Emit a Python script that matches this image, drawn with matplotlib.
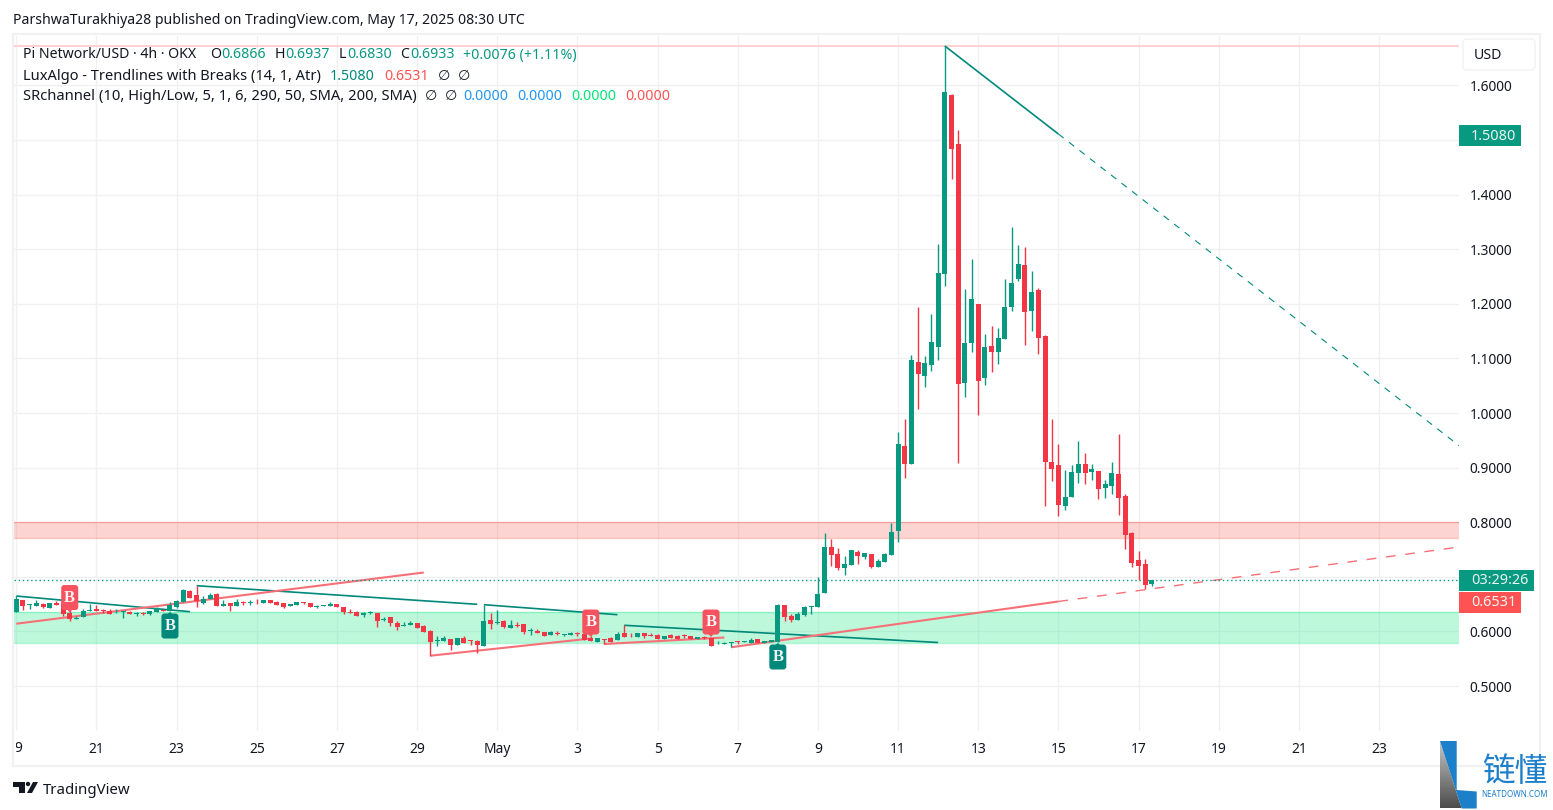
import numpy as np
import matplotlib
matplotlib.use("Agg")
from matplotlib import pyplot as plt
from matplotlib.patches import FancyBboxPatch, Polygon, Rectangle, Circle

# 4h candles, bar 0 = Apr 19 00:00
opens = [.6362,.6575,.6484,.6466,.6502,.6429,.6520,.6520,.6331,.6228,.6264,.6380,.6411,.6392,.6374,.6368,.6362,.6362,.6325,.6337,
         .6319,.6362,.6392,.6374,.6447,.6539,.6740,.6667,.6520,.6594,.6685,.6472,.6520,.6472,.6539,.6527,.6545,.6520,.6575,.6538,
         .6520,.6465,.6483,.6538,.6520,.6452,.6471,.6465,.6501,.6446,.6355,.6355,.6306,.6337,.6337,.6214,.6263,.6153,.6098,.6117,
         .6153,.6098,.6007,.5824,.5824,.5860,.5750,.5879,.5842,.5824,.5732,.6208,.6153,.6190,.6062,.6117,.6135,.6007,.6007,.5989,
         .5934,.5977,.5934,.5934,.5964,.5952,.5879,.5806,.5861,.5879,.5842,.5970,.5940,.5897,.5970,.5934,.5934,.5861,.5934,.5916,
         .5928,.5916,.5861,.5897,.5879,.5781,.5775,.5787,.5818,.5806,.5787,.5861,.5794,.5812,.5812,.6483,.6282,.6209,.6300,.6447,
         .6447,.6703,.7546,.7417,.7161,.7216,.7454,.7363,.7418,.7179,.7271,.7399,.7839,.9396,.9066,1.0934,1.0678,1.0879,1.1209,1.2546,
         1.5825,1.4927,1.0550,1.1282,1.1996,1.0641,1.1227,1.1117,1.1356,1.1941,1.2454,1.2711,1.1868,1.2253,1.1410,.9103,.9048,.8297,.8462,.8901,
         .9066,.8920,.8938,.8627,.8663,.8883,.8480,.7802,.7308,.7235,.6866]
highs = [.6649,.6575,.6502,.6575,.6514,.6520,.6557,.6520,.6392,.6282,.6411,.6502,.6484,.6411,.6411,.6411,.6374,.6374,.6362,.6362,
         .6374,.6447,.6411,.6533,.6575,.6770,.6758,.6838,.6649,.6704,.6704,.6575,.6520,.6594,.6563,.6569,.6587,.6575,.6575,.6550,
         .6520,.6501,.6538,.6538,.6520,.6489,.6489,.6538,.6501,.6446,.6410,.6367,.6361,.6373,.6337,.6263,.6263,.6190,.6172,.6190,
         .6153,.6117,.6025,.5915,.5915,.5860,.5885,.5915,.5842,.5842,.6483,.6337,.6392,.6208,.6208,.6172,.6135,.6062,.6044,.5989,
         .6007,.6007,.5952,.5989,.5989,.5952,.5916,.5879,.5861,.5897,.5989,.6117,.5970,.5970,.5970,.5970,.5952,.5916,.5952,.5934,
         .5952,.5916,.5897,.5916,.5879,.5824,.5806,.5800,.5818,.5824,.5879,.5861,.5824,.5842,.6502,.6483,.6319,.6355,.6465,.6459,
         .6996,.7802,.7692,.7527,.7381,.7491,.7491,.7436,.7418,.7326,.7436,.7985,.9652,.9890,1.1062,1.1942,1.1044,1.1813,1.3095,1.6722,
         1.5845,1.5184,1.2271,1.2821,1.1996,1.1447,1.1593,1.1557,1.2454,1.3407,1.3077,1.3040,1.2601,1.2290,1.1429,.9890,.9432,.8956,.9048,.9487,
         .9268,.9066,.8938,.8773,.9103,.9615,.8517,.7821,.7473,.7326,.6937]
lows = [.6362,.6392,.6411,.6466,.6429,.6429,.6484,.6282,.6191,.6228,.6264,.6380,.6374,.6337,.6325,.6337,.6246,.6325,.6289,.6295,
        .6307,.6362,.6374,.6374,.6429,.6539,.6612,.6447,.6502,.6594,.6472,.6472,.6374,.6472,.6484,.6490,.6502,.6520,.6520,.6483,
        .6434,.6465,.6483,.6501,.6446,.6428,.6465,.6465,.6446,.6318,.6337,.6282,.6269,.6318,.6080,.6190,.6098,.6025,.6098,.6117,
        .6062,.5989,.5549,.5732,.5824,.5659,.5750,.5787,.5750,.5604,.5732,.6044,.6135,.6062,.6062,.6080,.5952,.5934,.5970,.5916,
        .5934,.5934,.5916,.5934,.5916,.5842,.5824,.5806,.5769,.5806,.5842,.5897,.5897,.5897,.5879,.5922,.5861,.5861,.5879,.5861,
        .5879,.5861,.5861,.5861,.5732,.5769,.5775,.5720,.5769,.5806,.5787,.5787,.5794,.5812,.5800,.6190,.6172,.6209,.6282,.6319,
        .6447,.6703,.7198,.7125,.7033,.7216,.7234,.7326,.7161,.7179,.7271,.7399,.7637,.8809,.9066,1.0073,1.0476,1.0769,1.0971,1.2326,
        1.4286,.9084,1.0293,1.1117,.9963,1.0513,1.0751,1.0898,1.1356,1.1868,1.2418,1.1246,1.1502,1.1081,.8297,.8755,.8114,.8224,.8462,.8718,
        .8700,.8773,.8425,.8443,.8517,.8132,.7509,.7180,.6942,.6777,.6830]
closes = [.6588,.6472,.6496,.6520,.6447,.6520,.6484,.6313,.6221,.6240,.6374,.6392,.6374,.6368,.6325,.6380,.6374,.6325,.6337,.6325,
          .6374,.6423,.6374,.6484,.6557,.6758,.6612,.6557,.6594,.6667,.6472,.6502,.6472,.6539,.6527,.6539,.6533,.6575,.6520,.6483,
          .6446,.6501,.6538,.6520,.6446,.6471,.6489,.6501,.6446,.6355,.6337,.6282,.6343,.6355,.6190,.6233,.6153,.6080,.6117,.6153,
          .6062,.5989,.5805,.5842,.5879,.5750,.5879,.5787,.5824,.5750,.6190,.6135,.6172,.6080,.6117,.6105,.5989,.6019,.5970,.5916,
          .5989,.5958,.5952,.5970,.5945,.5842,.5824,.5879,.5842,.5806,.5952,.5897,.5928,.5970,.5916,.5922,.5861,.5916,.5879,.5861,
          .5916,.5861,.5897,.5879,.5732,.5793,.5787,.5800,.5806,.5818,.5842,.5787,.5824,.5842,.6483,.6264,.6209,.6319,.6447,.6459,
          .6685,.7546,.7399,.7161,.7234,.7491,.7381,.7436,.7179,.7289,.7418,.7820,.9432,.9066,1.0971,1.0715,1.0916,1.1301,1.2564,1.5880,
          1.4836,1.0531,1.1282,1.2088,1.0586,1.1209,1.1117,1.1374,1.1941,1.2381,1.2729,1.1850,1.2216,1.1374,.9103,.8975,.8315,.8462,.8920,.9066,
          .8901,.8975,.8608,.8700,.8901,.8443,.7766,.7253,.7198,.6850,.6933]

# trendlines: (bar, price) pairs
green_lines = [[(0, .6648), (26, .6361)], [(27, .6837), (69, .6496)], [(70, .6489), (90, .6306)],
               [(91, .6112), (138, .5797)], [(139, 1.6722), (156, 1.5110)]]
red_lines = [[(0, .6141), (61, .7079)], [(62, .5555), (86, .5870)], [(88, .5769), (106, .5888)],
             [(107, .5709), (156, .6548)]]
green_dash = [(156, 1.5110), (216, .9400)]
red_dash = [(156, .6548), (216, .7546)]

# SR channel bands (top, bottom)
red_band = (.8003, .7711)
green_band = (.6355, .5788)
top_line = 1.6722
last_price = .6933

# break labels: bar, price
sell_marks = [(8, .6346), (86, .5897), (104, .5897)]
buy_marks = [(23, .6355), (114, .5788)]

price_ticks = [.5, .6, .7, .8, .9, 1.0, 1.1, 1.2, 1.3, 1.4, 1.5, 1.6]
price_labels = ['0.5000', '0.6000', '', '0.8000', '0.9000', '1.0000', '1.1000', '1.2000', '1.3000', '1.4000', '', '1.6000']
day_ticks = list(range(0, 216, 12))
day_labels = ['', '21', '23', '25', '27', '29', 'May', '3', '5', '7', '9', '11', '13', '15', '17', '19', '21', '23']

GREEN = '#089981'
RED = '#f23645'
TEAL = '#00897b'
SALMON = '#f77077'
INK = '#131722'
GRID = '#f1f1f1'

plt.rcParams['font.family'] = ['Noto Sans', 'DejaVu Sans']

W, H = 1553, 810
fig = plt.figure(figsize=(W / 100, H / 100), dpi=100, facecolor='white')
ax = fig.add_axes([14 / W, (H - 731) / H, 1445 / W, 695 / H])
ax.set_xlim(-0.344, 215.97)
ax.set_ylim(.4176, 1.6905)
for s in ax.spines.values():
    s.set_visible(False)

ax.grid(True, color=GRID, lw=1)
ax.set_axisbelow(True)
ax.yaxis.tick_right()
ax.set_yticks(price_ticks)
ax.set_yticklabels(price_labels, fontsize=9.9, color=INK, va='center_baseline')
ax.set_xticks(day_ticks)
ax.set_xticklabels(day_labels, fontsize=10, color=INK)
ax.get_xticklabels()[6].set_fontweight('bold')
ax.tick_params(length=0, pad=8)
ax.tick_params(axis='y', pad=7.5)

# bands
ax.axhspan(red_band[1], red_band[0], fc='#f44336', alpha=.22, ec='none', zorder=1)
ax.axhspan(green_band[1], green_band[0], fc='#00e676', alpha=.26, ec='none', zorder=1)
for y in red_band:
    ax.axhline(y, color='#f44336', alpha=.3, lw=1, zorder=1)
for y in green_band:
    ax.axhline(y, color='#00e676', alpha=.3, lw=1, zorder=1)
ax.axhline(top_line, color='#ffd2d4', lw=1.5, zorder=1)

# trendlines
for seg in green_lines:
    xs, ys = zip(*seg)
    ax.plot(xs, ys, color=TEAL, lw=1.2, zorder=2, solid_capstyle='butt')
for seg in red_lines:
    xs, ys = zip(*seg)
    ax.plot(xs, ys, color=SALMON, lw=1.5, zorder=2, solid_capstyle='butt')
xs, ys = zip(*green_dash)
ax.plot(xs, ys, color=TEAL, lw=.8, ls=(0, (6, 6)), zorder=2)
xs, ys = zip(*red_dash)
ax.plot(xs, ys, color=SALMON, lw=1, ls=(0, (7, 7)), zorder=2)
ax.axhline(last_price, color=GREEN, lw=1, ls=(0, (1, 2)), zorder=2)

# candles
o = np.array(opens)
h = np.array(highs)
l = np.array(lows)
c = np.array(closes)
bars = np.arange(len(o))
colors = np.where(c >= o, GREEN, RED)
ax.vlines(bars, l, h, colors=colors, lw=1, zorder=3)
ax.bar(bars, np.abs(c - o), bottom=np.minimum(o, c), width=.75, color=colors, lw=0, zorder=4)

# everything in page pixels goes on this overlay
over = fig.add_axes([0, 0, 1, 1], zorder=5)
over.set_xlim(0, W)
over.set_ylim(H, 0)
over.axis('off')
over.patch.set_alpha(0)


def to_px(bar, price):
    x, y = ax.transData.transform((bar, price))
    return x, H - y


def mark(bar, price, fc, up):
    x, tip = to_px(bar, price)
    top = tip + 1.5 if up else tip - 27.5
    over.add_patch(FancyBboxPatch((x - 8.5, top), 17, 25, boxstyle='round,pad=0,rounding_size=3',
                                  fc=fc, ec='none', zorder=6))
    base = top + 1 if up else top + 24
    over.add_patch(Polygon([(x - 3, base), (x + 3, base), (x, tip)], fc=fc, ec='none', zorder=6))
    over.text(x, top + 12.5, 'B', color='#f4f4f4', fontsize=12, ha='center', va='center', weight='bold',
              family='Liberation Serif', zorder=7)


for b, p in sell_marks:
    mark(b, p, '#f7525f', False)
for b, p in buy_marks:
    mark(b, p, TEAL, True)

# frame
over.add_patch(Rectangle((13, 34), 1527, 732, fc='none', ec=GRID, lw=1.6, zorder=0))

# header and legend
over.text(13, 20.5, 'ParshwaTurakhiya28 published on TradingView.com, May 17, 2025 08:30 UTC', fontsize=10.15,
          color=INK, va='center')


def legend_row(y, items):
    for x, s, col, size in items:
        over.text(x, y, s, fontsize=size, color=col, va='center')


legend_row(55, [(23, 'Pi Network/USD · 4h · OKX', INK, 10.2), (210, 'O', INK, 10.2), (221, '0.6866', GREEN, 10.2),
                (275, 'H', INK, 10.2), (285, '0.6937', GREEN, 10.2), (339, 'L', INK, 10.2), (347, '0.6830', GREEN, 10.2),
                (400, 'C', INK, 10.2), (410, '0.6933', GREEN, 10.2), (463, '+0.0076 (+1.11%)', GREEN, 10.2)])
legend_row(76, [(23, 'LuxAlgo - Trendlines with Breaks (14, 1, Atr)', INK, 10.55), (330, '1.5080', TEAL, 10.2),
                (384, '0.6531', '#ff5252', 10.2), (438, '∅', INK, 10.2), (458, '∅', INK, 10.2)])
legend_row(97, [(23, 'SRchannel (10, High/Low, 5, 1, 6, 290, 50, SMA, 200, SMA)', INK, 10.6), (425, '∅', INK, 10.2),
                (445, '∅', INK, 10.2), (463, '0.0000', '#2196f3', 10.2), (517, '0.0000', '#2196f3', 10.2),
                (571, '0.0000', '#00e676', 10.2), (625, '0.0000', '#ff5252', 10.2)])

# clipped first date label
nine = over.text(16, 748, '19', fontsize=10, color=INK, ha='center', va='center', clip_on=True)
nine.set_clip_path(Rectangle((15.5, 730), 30, 30, transform=over.transData))

# right axis
over.add_patch(FancyBboxPatch((1463, 39), 72, 31, boxstyle='round,pad=0,rounding_size=4', fc='white', ec=GRID, lw=1))
over.text(1474, 55.5, 'USD', fontsize=10.2, color=INK, va='center')


def tag(y0, y1, x1, s, fc):
    over.add_patch(Rectangle((1459, y0), x1 - 1459, y1 - y0, fc=fc, ec='none'))
    over.text((1459 + x1) / 2 + 3.5, (y0 + y1) / 2 + .5, s, color='#e9f5f1', fontsize=10.4, ha='center', va='center')


tag(125, 146, 1521, '1.5080', GREEN)
tag(570, 591, 1534, '03:29:26', GREEN)
tag(592, 613, 1521, '0.6531', '#ff5252')

# TradingView mark
over.add_patch(Polygon([(13, 782), (25, 782), (25, 793), (19, 793), (19, 787), (13, 787)], fc=INK, ec='none'))
over.add_patch(Circle((28, 784), 2.2, fc=INK, ec='none'))
over.add_patch(Polygon([(33, 782), (38, 782), (32, 793), (27, 793)], fc=INK, ec='none'))
over.text(43, 790, 'TradingView', fontsize=10.8, color=INK, va='center')

# watermark
blue = '#1b7fc9'
grad = np.linspace(.78, .3, 64).reshape(-1, 1)
im = over.imshow(grad, extent=(1440, 1462, 808.5, 741), cmap='gray', vmin=0, vmax=1, aspect='auto', zorder=2)
im.set_clip_path(Polygon([(1440, 741), (1461.7, 808.5), (1440, 808.5)], transform=over.transData))
over.set_xlim(0, W)
over.set_ylim(H, 0)
over.add_patch(Polygon([(1440, 741), (1456.7, 741), (1456.7, 790), (1476.7, 791.5), (1476.7, 808.5), (1461.7, 808.5)],
                       fc=blue, ec='none', zorder=3))
over.text(1514.5, 772.5, '链懂', fontsize=23.5, color=blue, ha='center', va='center', family='Noto Sans CJK SC', zorder=3)
over.text(1515, 794.5, 'NEATDOWN.COM', fontsize=5.8, color=blue, ha='center', va='center', weight='bold', zorder=3)

fig.savefig('out.png', dpi=100, facecolor='white')
